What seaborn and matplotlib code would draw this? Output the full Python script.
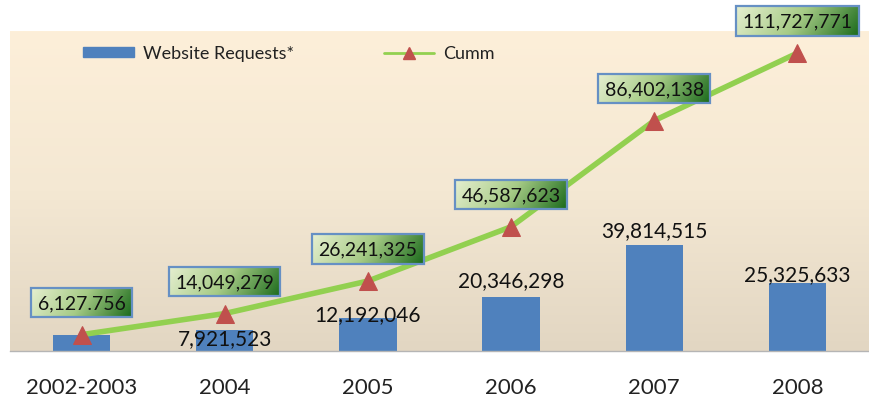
import numpy as np
import matplotlib.pyplot as plt
import seaborn as sns
from matplotlib.colors import LinearSegmentedColormap
from matplotlib.patches import Patch
from matplotlib.lines import Line2D

periods = ["2002-2003", "2004", "2005", "2006", "2007", "2008"]
requests = [6127756, 7921523, 12192046, 20346298, 39814515, 25325633]
cumm = [6127756, 14049279, 26241325, 46587623, 86402138, 111727771]
request_labels = ["", "7,921,523", "12,192,046", "20,346,298", "39,814,515", "25,325,633"]
cumm_labels = ["6,127.756", "14,049,279", "26,241,325", "46,587,623", "86,402,138", "111,727,771"]

# nudges (pixels) so the bar labels dodge the line
bar_label_dy = [0, -8, 4, 17, 15, 9]

BLUE = "#4F81BD"
GREEN = "#92D050"
RED = "#C0504D"

sns.set_theme(style="white")
plt.rcParams["font.family"] = ["Lato", "DejaVu Sans"]

fig = plt.figure(figsize=(8.69, 4.02), dpi=100)
ax = fig.add_axes([10 / 869, 50 / 402, 859 / 869, 320 / 402])

# beige background, darker toward the baseline
bg = LinearSegmentedColormap.from_list("bg", ["#E2D6C2", "#F4E8D3", "#FDEFD9"])
ax.imshow(np.linspace(0, 1, 256).reshape(-1, 1), cmap=bg, aspect="auto",
          extent=[0, 1, 0, 1], transform=ax.transAxes, origin="lower", zorder=0)

sns.barplot(x=periods, y=requests, color=BLUE, saturation=1, width=0.4,
            linewidth=0, edgecolor="none", ax=ax, zorder=2)
sns.lineplot(x=np.arange(len(periods)), y=cumm, color=GREEN, lw=4, marker="^",
             markersize=13, markerfacecolor=RED, markeredgecolor=RED, zorder=3, ax=ax)

ax.set_xlim(-0.5, 5.5)
ax.set_ylim(0, 120e6)

for i, (v, lab, dy) in enumerate(zip(requests, request_labels, bar_label_dy)):
    if lab:
        ax.annotate(lab, (i, v), xytext=(0, dy), textcoords="offset pixels",
                    ha="center", va="center", fontsize=15, color="#111111", zorder=4)

boxes = []
for i, (v, lab) in enumerate(zip(cumm, cumm_labels)):
    a = ax.annotate(lab, (i, v), xytext=(0, 32), textcoords="offset pixels",
                    ha="center", va="center", fontsize=14, color="#111111", zorder=6,
                    annotation_clip=False,
                    bbox=dict(boxstyle="square,pad=0.32", fc="none", ec="#6690C4", lw=1.6))
    boxes.append(a)

# gradient fill behind the value boxes
fig.canvas.draw()
renderer = fig.canvas.get_renderer()
box_cmap = LinearSegmentedColormap.from_list("box", ["#E6EFD0", "#A6CB86", "#1C6B1C"])
gx, gy = np.meshgrid(np.linspace(0, 1, 120), np.linspace(0, 1, 30))
grad = 0.85 * gx + 0.15 * gy
inv = ax.transData.inverted()
for a in boxes:
    bb = a.get_bbox_patch().get_window_extent(renderer)
    (x0, y0), (x1, y1) = inv.transform([[bb.x0, bb.y0], [bb.x1, bb.y1]])
    im = ax.imshow(grad, cmap=box_cmap, aspect="auto", extent=[x0, x1, y0, y1],
                   origin="upper", zorder=5)
    im.set_clip_on(False)

ax.set_xlim(-0.5, 5.5)
ax.set_ylim(0, 120e6)

ax.set_yticks([])
ax.set_xlabel("")
ax.set_ylabel("")
ax.tick_params(axis="x", length=0, pad=19, labelsize=16, labelcolor="#222222")
for s in ["left", "right", "top"]:
    ax.spines[s].set_visible(False)
ax.spines["bottom"].set_color("#B5B5B5")
ax.spines["bottom"].set_linewidth(1)

handles = [Patch(fc=BLUE, ec=BLUE),
           Line2D([], [], color=GREEN, lw=2, marker="^", markersize=9,
                  markerfacecolor=RED, markeredgecolor=RED)]
leg = ax.legend(handles, ["Website Requests*", "Cumm"], ncol=2, frameon=False,
                loc="center left", bbox_to_anchor=(0.085, 0.93), borderaxespad=0,
                borderpad=0, handlelength=2.8, handleheight=0.45, handletextpad=0.5,
                columnspacing=5, fontsize=13)
for t in leg.get_texts():
    t.set_color("#222222")

fig.savefig("out.png", dpi=100)
